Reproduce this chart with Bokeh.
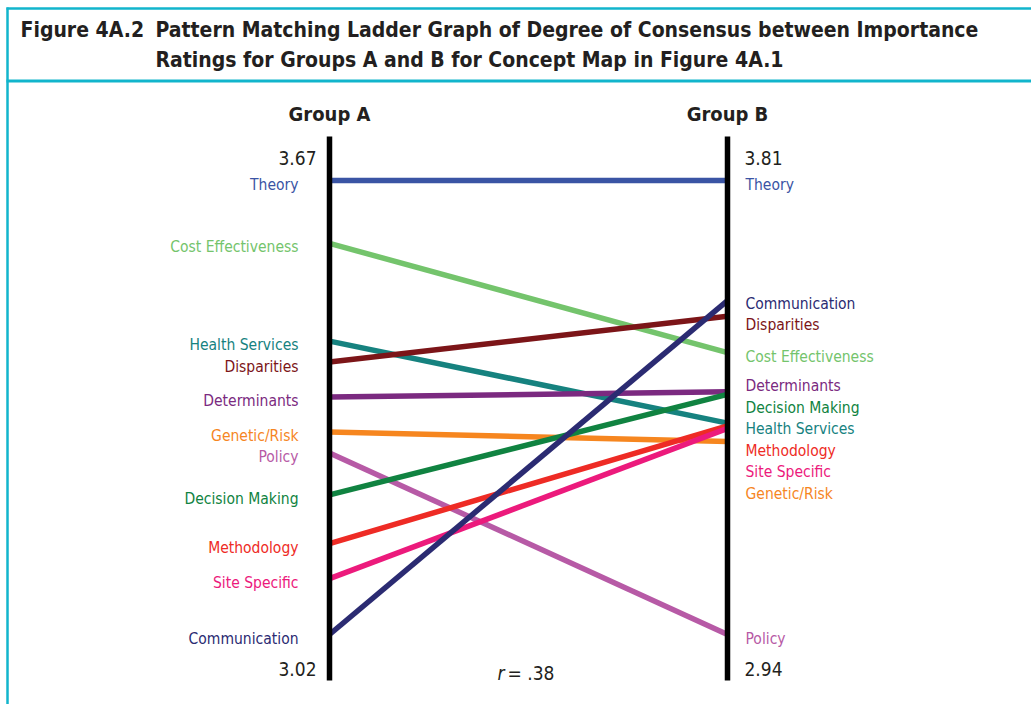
from bokeh.plotting import figure
from bokeh.models import Range1d, Label
from bokeh.embed import file_html
from bokeh.resources import INLINE
from bokeh.core.properties import value

# ---------------- data ----------------
concepts = ["Theory", "Cost Effectiveness", "Health Services", "Disparities",
            "Determinants", "Genetic/Risk", "Policy", "Decision Making",
            "Methodology", "Site Specific", "Communication"]
group_a = [3.67, 3.58, 3.44, 3.41, 3.36, 3.31, 3.28, 3.22, 3.15, 3.10, 3.02]
group_b = [3.81, 3.48, 3.345, 3.55, 3.405, 3.31, 2.94, 3.40, 3.34, 3.335, 3.58]
colors = ["#3a54a4", "#74c46c", "#16827f", "#7c1518", "#7b2a80", "#f6861f",
          "#b75aa6", "#108341", "#ee2b25", "#ec1a7c", "#2b2b72"]
groups = ["Group A", "Group B"]
r_label = "= .38"
fig_number = "Figure 4A.2"
title_lines = ["Pattern Matching Ladder Graph of Degree of Consensus between Importance",
               "Ratings for Groups A and B for Concept Map in Figure 4A.1"]

# ---------------- layout ----------------
W, H = 1031, 704
AX_A, AX_B = 329, 727          # px of the two rungs
TOP_PX, BOT_PX = 180, 634      # px of max / min value
TEAL = "#12b5cc"
DARK = "#231f20"
FONT_STR = "'DejaVu Sans Condensed', 'Liberation Sans Narrow', sans-serif"
FONT = value(FONT_STR)

def norm(vals):
    lo, hi = min(vals), max(vals)
    return [(v - lo) / (hi - lo) for v in vals]

na, nb = norm(group_a), norm(group_b)
upx = 1.0 / (BOT_PX - TOP_PX)         # normalised units per px
xpx = 1.0 / (AX_B - AX_A)

def X(px):
    return (px - AX_A) * xpx

def Y(px):
    return 1 - (px - TOP_PX) * upx

p = figure(width=W, height=H, output_backend="svg", toolbar_location=None,
           x_range=Range1d(X(0), X(W)), y_range=Range1d(Y(H), Y(0)),
           x_axis_type=None, y_axis_type=None, min_border=0,
           outline_line_color=None)
p.grid.visible = False

# ---- frame lines
p.segment(x0=[X(6), X(6)], y0=[Y(8), Y(80.5)], x1=[X(W), X(W)], y1=[Y(8), Y(80.5)],
          line_color=TEAL, line_width=[2.5, 3])
p.segment(x0=[X(7)], y0=[Y(7)], x1=[X(7)], y1=[Y(H)], line_color=TEAL, line_width=2.5)

# ---- rung lines
p.segment(x0=[0] * len(na), y0=na, x1=[1] * len(nb), y1=nb, line_color=colors,
          line_width=5.5, line_cap="butt")
ax_top = 1 + 44 * upx
ax_bot = 0 - 46 * upx
p.segment(x0=[0, 1], y0=[ax_bot, ax_bot], x1=[0, 1], y1=[ax_top, ax_top],
          line_color="black", line_width=5.5, line_cap="butt")

# ---- group headers
p.text(x=[0, 1], y=[ax_top, ax_top], text=groups, y_offset=-23, text_align="center",
       text_baseline="middle", text_font=FONT, text_font_style="bold",
       text_font_size="20px", text_color=DARK)

# ---- scale end values
a_hi, a_lo = max(group_a), min(group_a)
b_hi, b_lo = max(group_b), min(group_b)
p.text(x=[0, 0], y=[1, 0], text=[f"{a_hi:.2f}", f"{a_lo:.2f}"], x_offset=-13,
       y_offset=[-23, 34], text_align="right", text_baseline="middle",
       text_font=FONT, text_font_size="19px", text_color=DARK)
p.text(x=[1, 1], y=[1, 0], text=[f"{b_hi:.2f}", f"{b_lo:.2f}"], x_offset=17,
       y_offset=[-23, 34], text_align="left", text_baseline="middle",
       text_font=FONT, text_font_size="19px", text_color=DARK)

# ---- concept labels: top-down de-overlap, then each pushed cluster eased upward
GAP = 21.5
def place(nvals):
    px = [TOP_PX + (1 - v) / upx for v in nvals]
    order = sorted(range(len(px)), key=lambda i: px[i])
    out = {}
    last = -1e9
    for i in order:
        out[i] = max(px[i], last + GAP)
        last = out[i]
    # group consecutive labels into clusters (a member after the first was pushed)
    clusters, cur = [], [order[0]]
    for i in order[1:]:
        if out[i] > px[i] + 1e-9:
            cur.append(i)
        else:
            clusters.append(cur)
            cur = [i]
    clusters.append(cur)
    prev_last = -1e9
    for c in clusters:
        shift = sum(out[i] - px[i] for i in c) / len(c) / 3.0
        shift = min(shift, out[c[0]] - (prev_last + GAP))
        for i in c:
            out[i] -= max(shift, 0)
        prev_last = out[c[-1]]
    return [Y(out[i]) for i in range(len(px))]

la, lb = place(na), place(nb)
p.text(x=[0] * len(la), y=la, text=concepts, x_offset=-31, y_offset=4,
       text_align="right", text_baseline="middle", text_font=FONT,
       text_font_size="15.5px", text_color=colors)
p.text(x=[1] * len(lb), y=lb, text=concepts, x_offset=18, y_offset=4,
       text_align="left", text_baseline="middle", text_font=FONT,
       text_font_size="15.5px", text_color=colors)

# ---- correlation
p.text(x=[0.5], y=[0], text=["r"], x_offset=-24, y_offset=38, text_align="right",
       text_baseline="middle", text_font=FONT, text_font_style="italic",
       text_font_size="19px", text_color=DARK)
p.text(x=[0.5], y=[0], text=[r_label], x_offset=-21, y_offset=38, text_align="left",
       text_baseline="middle", text_font=FONT, text_font_size="19px", text_color=DARK)

# ---- title
p.add_layout(Label(x=20, y=H - 29, x_units="screen", y_units="screen", text=fig_number,
                   text_baseline="middle", text_font=FONT_STR, text_font_style="bold",
                   text_font_size="21px", text_color=DARK))
for k, line in enumerate(title_lines):
    p.add_layout(Label(x=155, y=H - 29 - 30 * k, x_units="screen", y_units="screen",
                       text=line, text_baseline="middle", text_font=FONT_STR,
                       text_font_style="bold", text_font_size="21px", text_color=DARK))

open("out.html", "w").write(file_html(p, INLINE))
